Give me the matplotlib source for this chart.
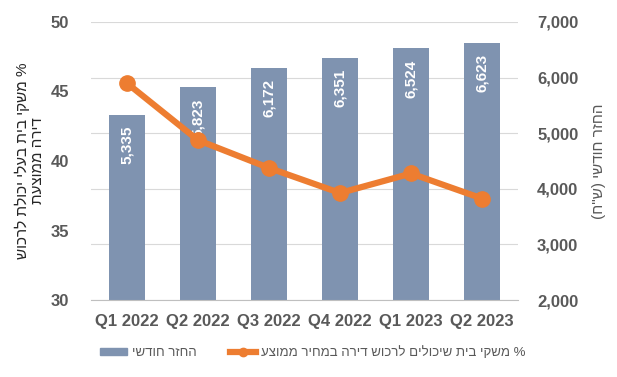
import matplotlib.pyplot as plt
from matplotlib.patches import Patch
from matplotlib.lines import Line2D
from matplotlib.ticker import FuncFormatter

quarters = ["Q1 2022", "Q2 2022", "Q3 2022", "Q4 2022", "Q1 2023", "Q2 2023"]
monthly_payment = [5335, 5823, 6172, 6351, 6524, 6623]
pct_households = [45.6, 41.5, 39.5, 37.7, 39.1, 37.3]

left_label = "% משקי בית בעלי יכולת לרכוש\nדירה ממוצעת"
right_label = 'החזר חודשי (ש"ח)'
bar_name = "החזר חודשי"
line_name = "% משקי בית שיכולים לרכוש דירה במחיר ממוצע"


def heb(s):
    # matplotlib has no bidi: reverse each line by hand and mirror brackets
    swap = {"(": ")", ")": "("}
    return "\n".join("".join(swap.get(c, c) for c in line[::-1]) for line in s.split("\n"))


plt.rcParams['font.family'] = ['Liberation Sans', 'DejaVu Sans']
grey = "#595959"
bar_color = "#7F93B0"
orange = "#ED7D31"

fig = plt.figure(figsize=(6.17, 3.77), dpi=100)
ax = fig.add_axes([0.148, 0.204, 0.691, 0.738])
ax2 = ax.twinx()
x = range(len(quarters))

# bars on the right-hand scale
bars = ax.bar(x, monthly_payment, width=0.5, color=bar_color, zorder=2)
ax.set_ylim(2000, 7000)
ax.set_xlim(-0.5, len(quarters) - 0.5)
ax.yaxis.tick_right()
ax.yaxis.set_label_position('right')
ax.yaxis.set_major_formatter(FuncFormatter(lambda v, p: f"{int(v):,}"))
ax.grid(axis='y', color="#D9D9D9", linewidth=0.8, zorder=0)
ax.set_axisbelow(True)
for s in ["top", "left", "right"]:
    ax.spines[s].set_visible(False)
ax.spines["bottom"].set_color("#BFBFBF")
ax.tick_params(axis='both', length=0, colors=grey, labelsize=12)
ax.tick_params(axis='y', pad=14)
ax.tick_params(axis='x', pad=10)
ax.set_xticks(list(x))
ax.set_xticklabels(quarters, fontweight='bold')
for lbl in ax.get_yticklabels():
    lbl.set_fontweight('bold')

for b, v in zip(bars, monthly_payment):
    ax.annotate(f"{v:,}", (b.get_x() + b.get_width() / 2, v), xytext=(0, -8),
                textcoords='offset points', rotation=90, ha='center', va='top',
                color='white', fontsize=11, fontweight='bold')

ax.set_ylabel(heb(right_label), rotation=90, color=grey, fontsize=11, labelpad=10)

# line on the left-hand scale
ax2.plot(list(x), pct_households, color=orange, linewidth=4.5, marker='o',
         markersize=11, zorder=3)
ax2.set_ylim(30, 50)
ax2.set_yticks([30, 35, 40, 45, 50])
ax2.yaxis.tick_left()
ax2.yaxis.set_label_position('left')
for s in ["top", "left", "right", "bottom"]:
    ax2.spines[s].set_visible(False)
ax2.tick_params(axis='y', length=0, colors=grey, labelsize=12, pad=16)
for lbl in ax2.get_yticklabels():
    lbl.set_fontweight('bold')
ax2.set_ylabel(heb(left_label), rotation=90, color="#262626", fontsize=11,
               labelpad=4, linespacing=1.1)

handles = [Patch(color=bar_color),
           Line2D([0], [0], color=orange, linewidth=4.5, marker='o', markersize=6)]
ax.legend(handles, [heb(bar_name), heb(line_name)], loc='center',
          bbox_to_anchor=(0.52, -0.19), ncol=2, frameon=False, fontsize=9.5,
          labelcolor=grey, handlelength=2.0, columnspacing=2.5,
          handleheight=0.5, handletextpad=0.4)

fig.savefig("out.png", dpi=100)
